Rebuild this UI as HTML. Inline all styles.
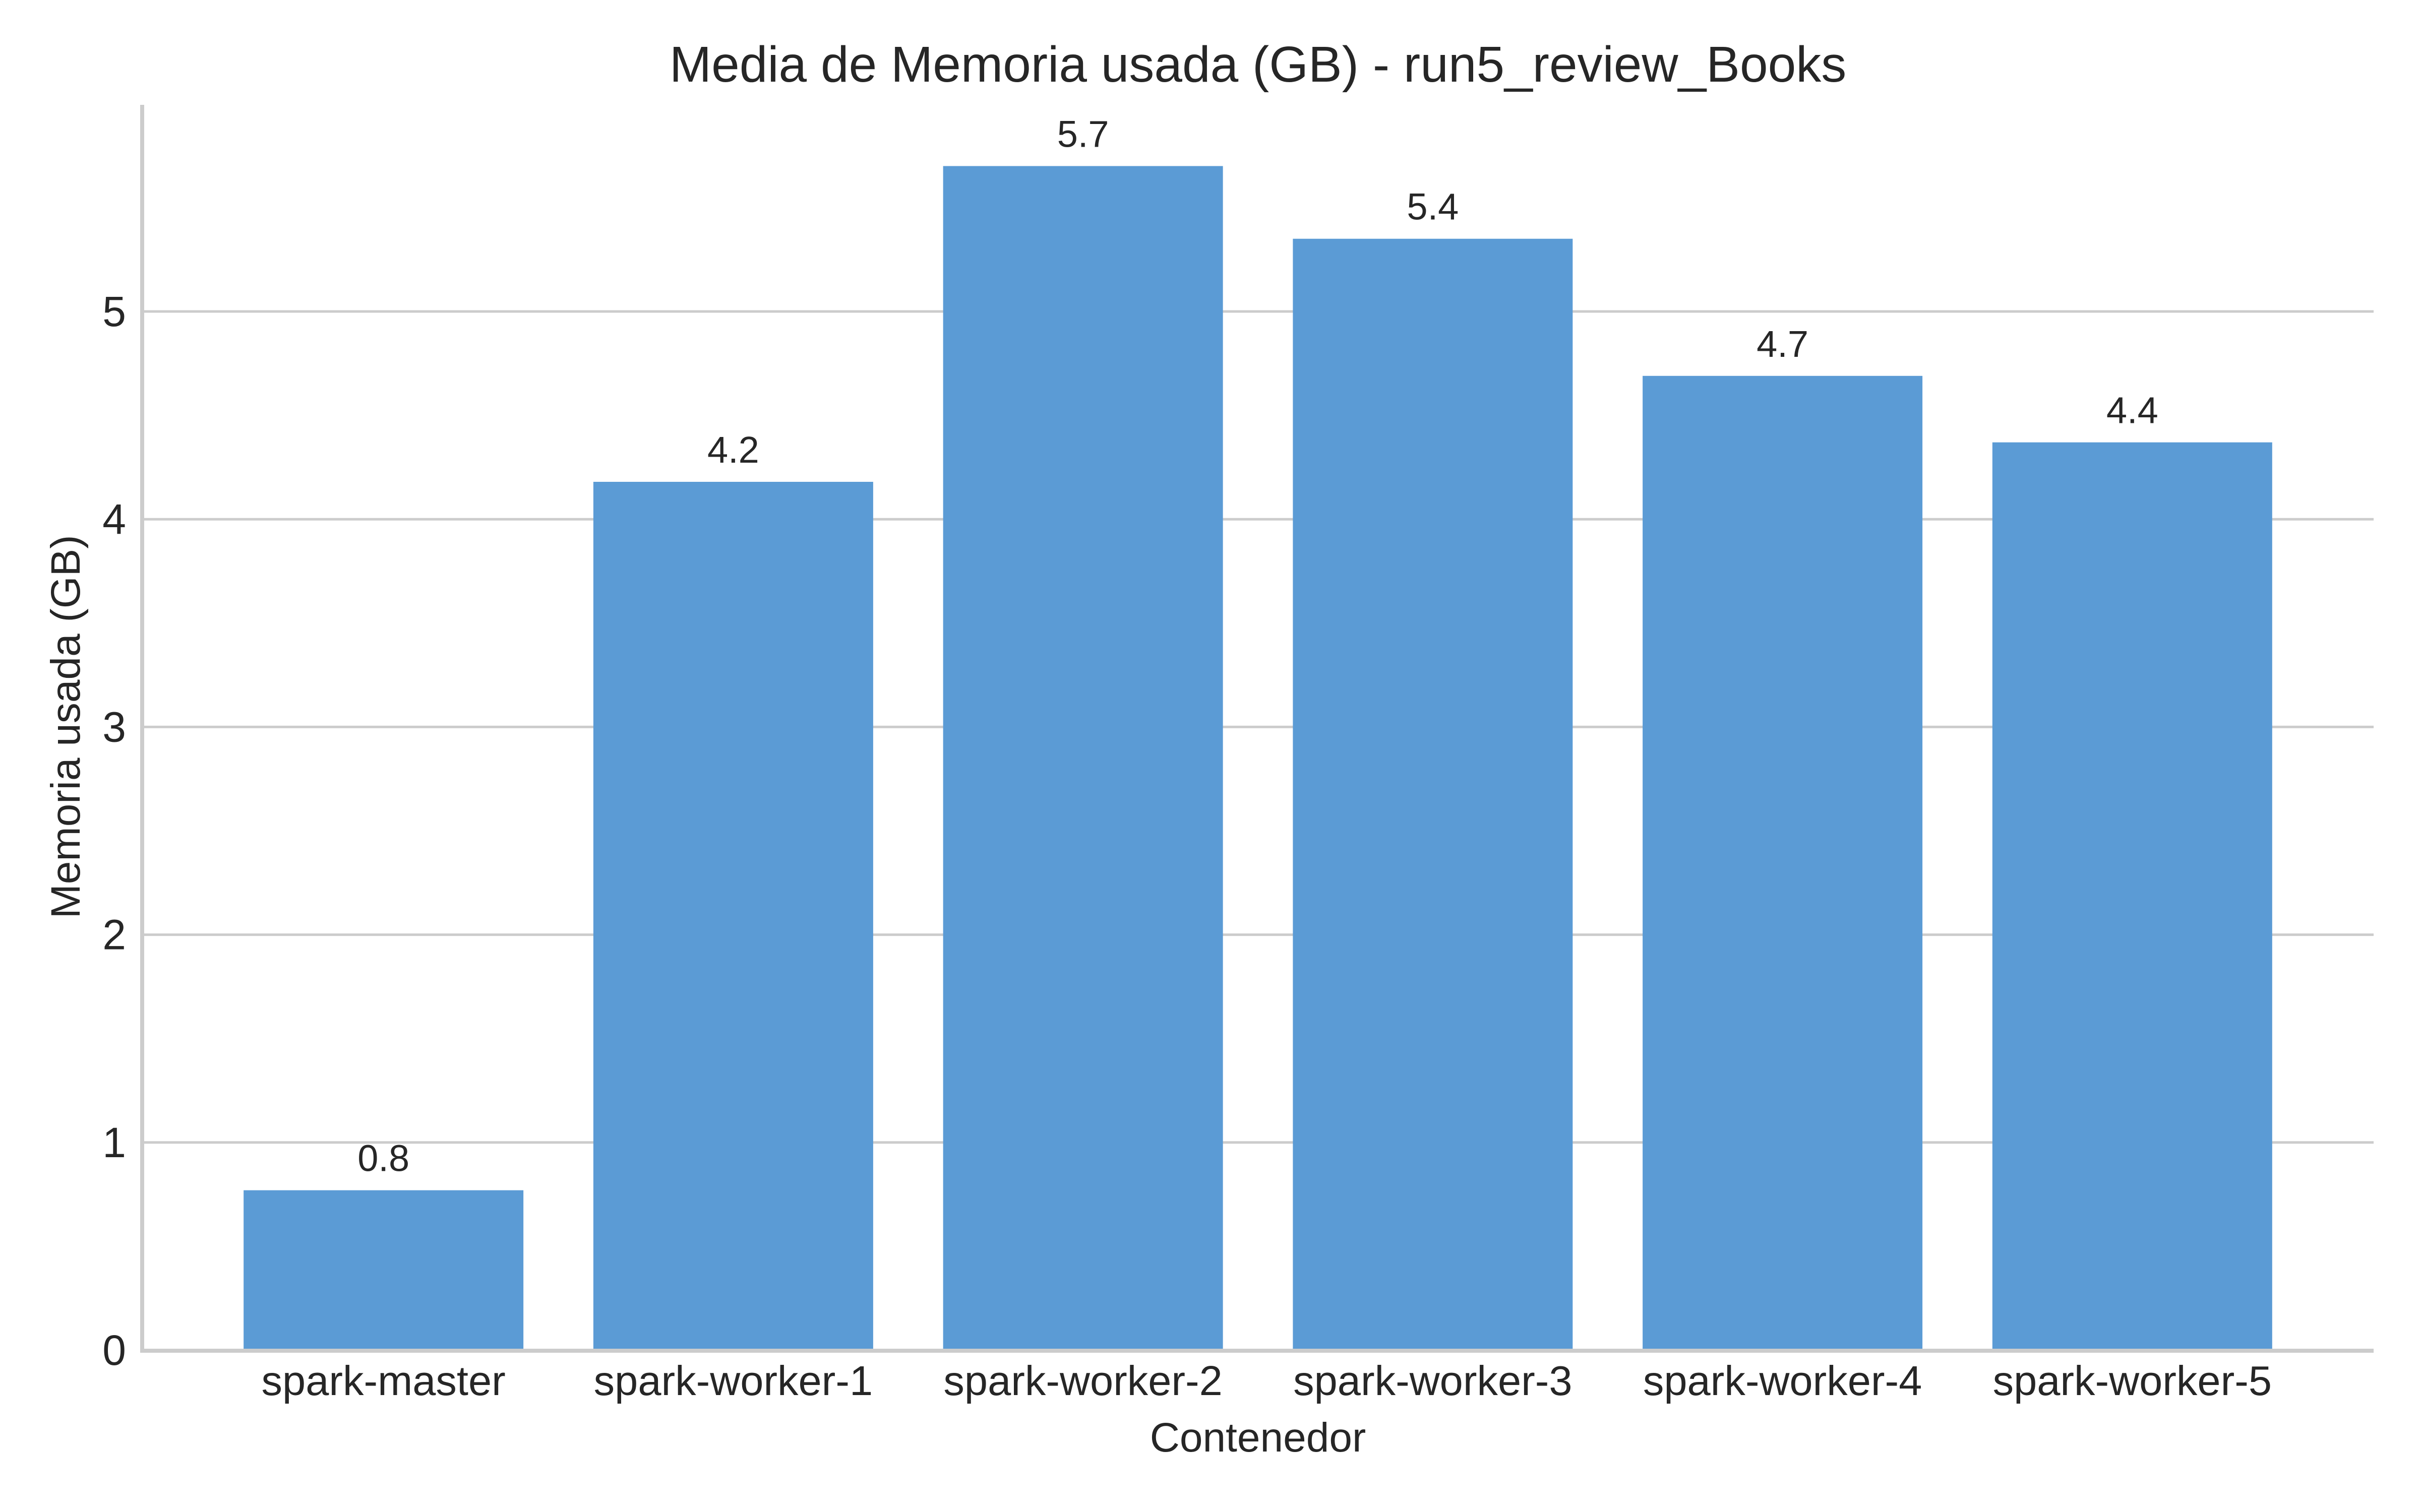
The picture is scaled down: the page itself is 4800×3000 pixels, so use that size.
<!DOCTYPE html>
<html><head><meta charset="utf-8"><style>
html,body{margin:0;padding:0;background:#fff;}
svg{display:block;font-family:"Liberation Sans",Arial,sans-serif;}
</style></head><body>
<svg id="chart" width="4800" height="3000" viewBox="0 0 4800 3000" xmlns="http://www.w3.org/2000/svg">
<rect width="4800" height="3000" fill="#fff"/>
<g id="grid"></g>
<g id="bars"></g>
<g id="labels"></g>
<g id="yticks"></g>
<g id="xticks"></g>
<line x1="282" y1="208" x2="282" y2="2683" stroke="#cccccc" stroke-width="8"/>
<line x1="278" y1="2680" x2="4708" y2="2680" stroke="#cccccc" stroke-width="8"/>
<text x="2495" y="162" font-size="100" text-anchor="middle" fill="#262626">Media de Memoria usada (GB) - run5_review_Books</text>
<text x="2495" y="2880" font-size="82" text-anchor="middle" fill="#262626">Contenedor</text>
<text x="0" y="0" font-size="82" text-anchor="middle" fill="#262626" transform="translate(158,1442) rotate(-90)">Memoria usada (GB)</text>
</svg>
<script>
const categories = ["spark-master","spark-worker-1","spark-worker-2","spark-worker-3","spark-worker-4","spark-worker-5"];
const values = [0.77, 4.18, 5.70, 5.35, 4.69, 4.37];
const valueLabels = ["0.8","4.2","5.7","5.4","4.7","4.4"];
const yTicks = [0,1,2,3,4,5];

const NS = "http://www.w3.org/2000/svg";
const X0 = 282, X1 = 4708, Y0 = 2679, Y5 = 618;
const xMin = -0.69, xMax = categories.length - 1 + 0.69;
function xs(i){ return X0 + (i - xMin) / (xMax - xMin) * (X1 - X0); }
function ys(v){ return Y0 - v * (Y0 - Y5) / 5; }
const bandW = (X1 - X0) / (xMax - xMin);
const barW = bandW * 0.8;

function mk(tag, attrs, parent){
  const el = document.createElementNS(NS, tag);
  for (const k in attrs) el.setAttribute(k, attrs[k]);
  parent.appendChild(el);
  return el;
}
const grid = document.getElementById('grid');
const bars = document.getElementById('bars');
const labels = document.getElementById('labels');
const yt = document.getElementById('yticks');
const xt = document.getElementById('xticks');

yTicks.forEach(t => {
  const y = ys(t);
  if (t > 0) {
    const g = mk('line', {x1: X0, x2: X1, y1: y, y2: y, stroke: '#cccccc', 'stroke-width': 5}, grid);
    
    
  }
  const tx = mk('text', {x: 250, y: y + 29, 'font-size': 84, 'text-anchor': 'end', fill: '#262626'}, yt);
  tx.textContent = String(t);
  
  
});

categories.forEach((c, i) => {
  const cx = xs(i);
  const top = ys(values[i]);
  const r = mk('rect', {x: cx - barW / 2, y: top, width: barW, height: Y0 - top, fill: '#5b9bd5'}, bars);
  
  
  const vl = mk('text', {x: cx, y: top - 38, 'font-size': 74, 'text-anchor': 'middle', fill: '#262626'}, labels);
  vl.textContent = valueLabels[i];
  
  
  const xl = mk('text', {x: cx, y: 2768, 'font-size': 83, 'text-anchor': 'middle', fill: '#262626'}, xt);
  xl.textContent = c;
  
  
});
</script>
</body></html>
